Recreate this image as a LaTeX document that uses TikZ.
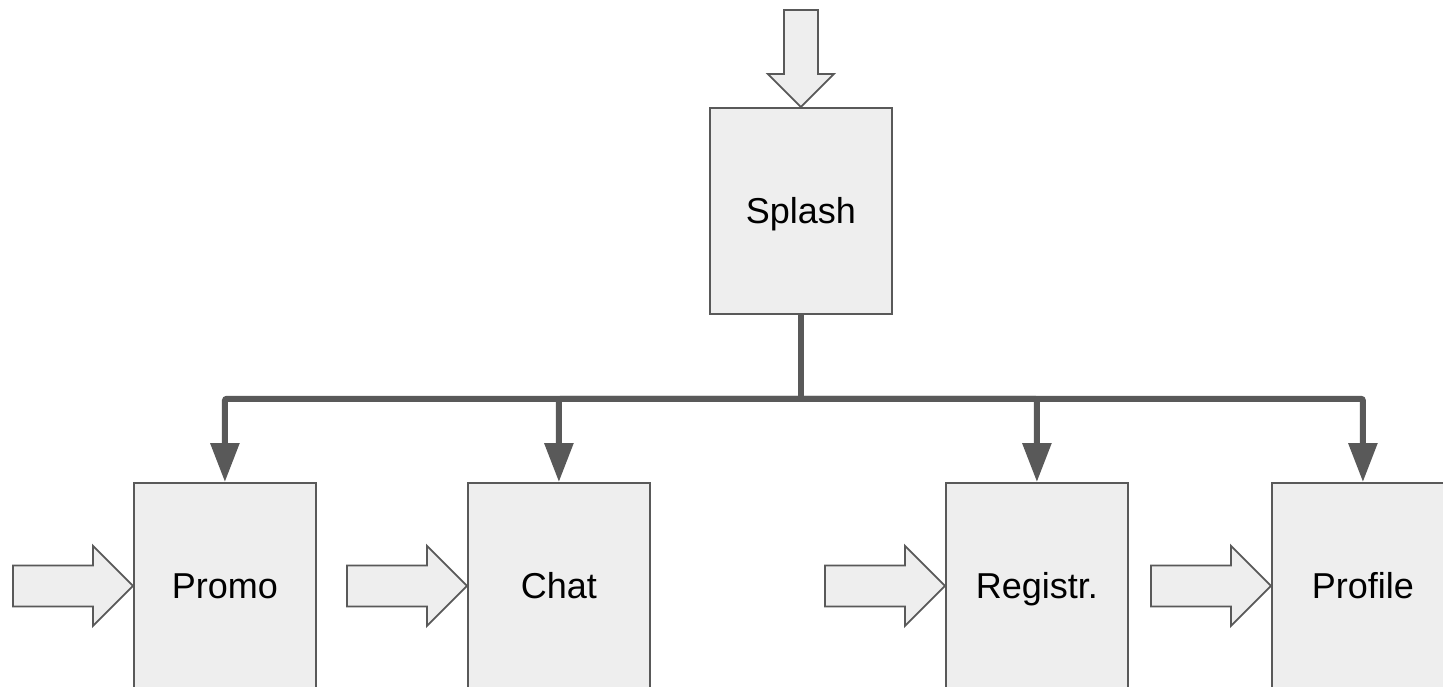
\documentclass[tikz,border=0pt]{standalone}
\usepackage{fontspec}
\setmainfont{Liberation Sans}
\usetikzlibrary{arrows.meta,calc}
\definecolor{boxfill}{HTML}{EEEEEE}
\definecolor{linegray}{HTML}{595959}
\begin{document}
\begin{tikzpicture}[x=1pt,y=-1pt,
  screen/.style={draw=linegray,line width=1.8pt,fill=boxfill,minimum width=182pt,minimum height=206pt,inner sep=0pt,font=\fontsize{36}{43}\selectfont,text height=25.8pt,text depth=0pt,anchor=north west},
  conn/.style={draw=linegray,line width=6pt,rounded corners=2pt,-{Triangle[length=39pt,width=28pt]}},
  blockarrow/.style={draw=linegray,line width=1.8pt,fill=boxfill,line join=miter}]
\useasboundingbox (0,0) rectangle (1443,686);
\clip (0,0) rectangle (1443,686);
\node[screen] (splash) at (709,107) {Splash};
\node[screen] (promo) at (133,482) {Promo};
\node[screen] (chat) at (467,482) {Chat};
\node[screen] (registr) at (945,482) {Registr.};
\node[screen] (profile) at (1271,482) {Profile};
% top entry arrow
\draw[blockarrow] (splash.north) -- ++(-33,-33) -- ++(16,0) -- ++(0,-64) -- ++(34,0) -- ++(0,64) -- ++(16,0) -- cycle;
% side entry arrows
\foreach \n in {promo,chat,registr,profile}{
  \draw[blockarrow] (\n.west) -- ++(-40,-40) -- ++(0,19.5) -- ++(-80,0) -- ++(0,41) -- ++(80,0) -- ++(0,19.5) -- cycle;
}
% connectors
\coordinate (junction) at ($(splash.south)+(0,84)$);
\draw[conn,-] (splash.south) -- (junction);
\draw[conn] (junction) -| (promo.north);
\draw[conn] (junction) -| (chat.north);
\draw[conn] (junction) -| (registr.north);
\draw[conn] (junction) -| (profile.north);
\end{tikzpicture}
\end{document}
